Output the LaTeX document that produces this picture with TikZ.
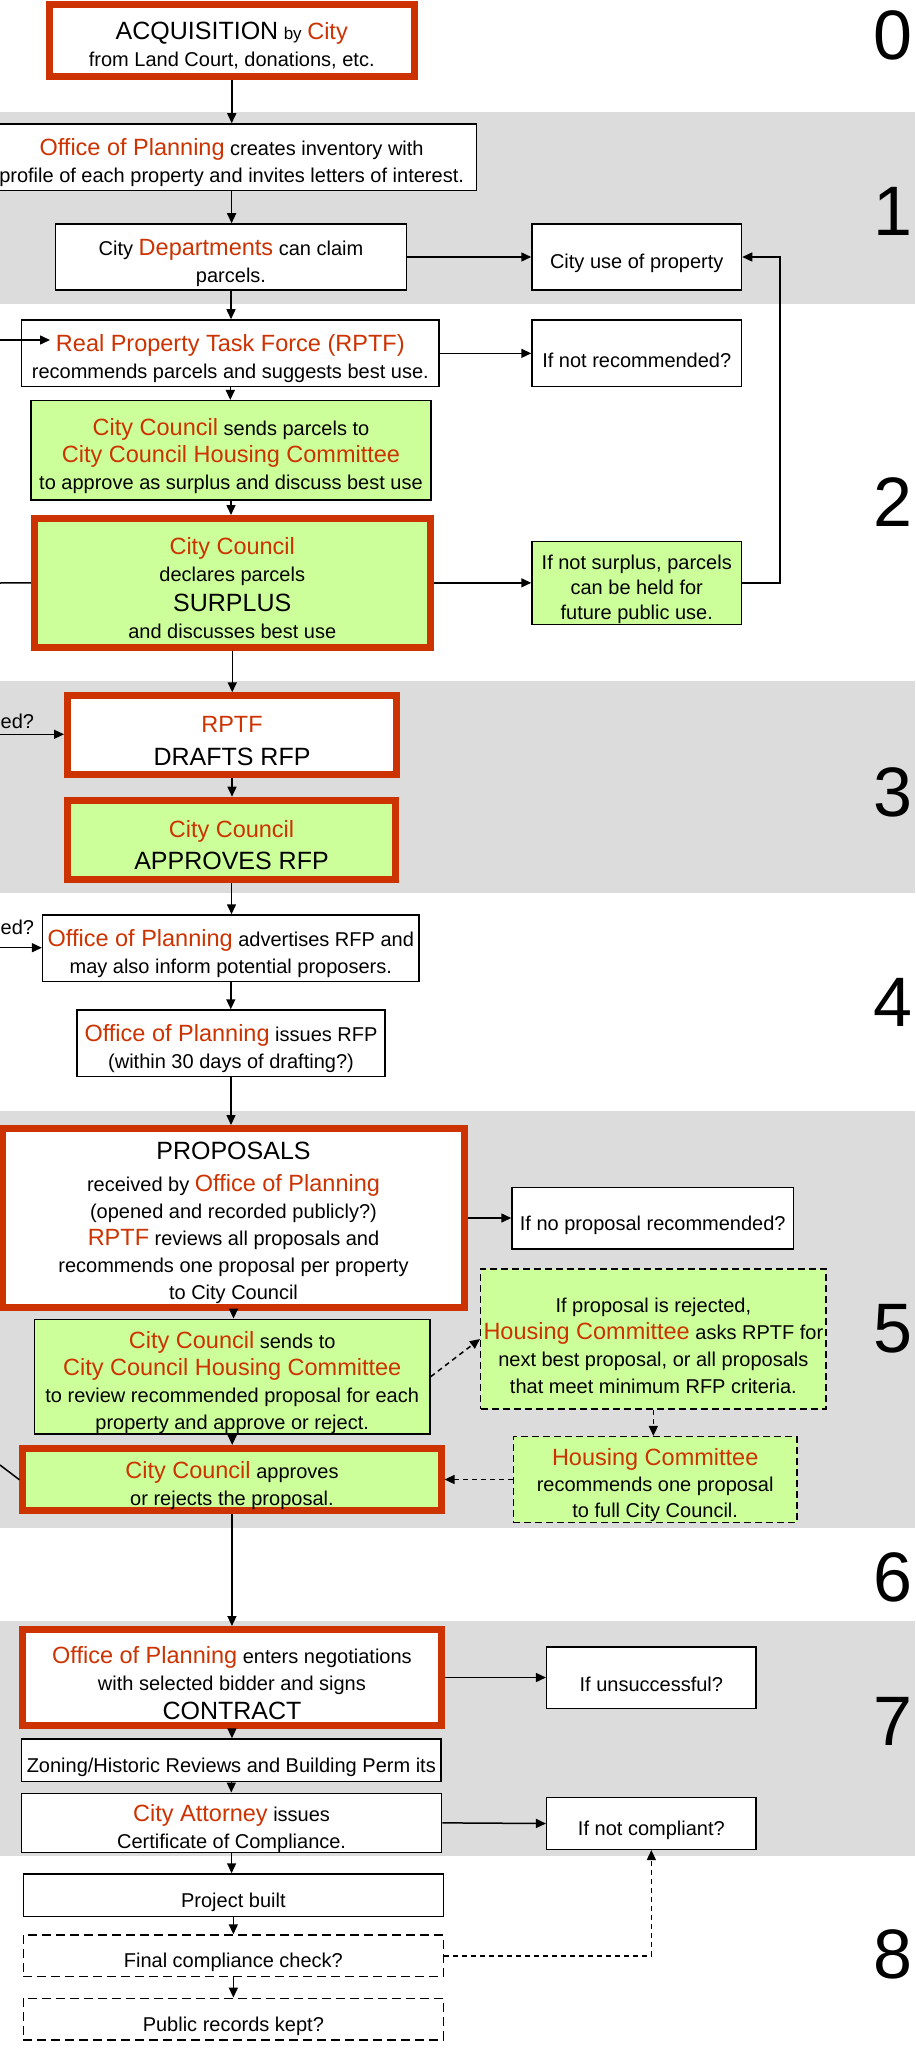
\documentclass[tikz,border=0pt]{standalone}
\usepackage{fontspec}
\setmainfont{Liberation Sans}
\usetikzlibrary{arrows.meta}
\definecolor{myred}{RGB}{204,51,0}
\definecolor{mygreen}{RGB}{204,255,153}
\definecolor{bandgray}{RGB}{220,220,220}
\newcommand{\redt}[1]{{\color{myred}\fontsize{23.5}{27}\selectfont #1}}
\newcommand{\bigt}[1]{{\fontsize{25}{27}\selectfont #1}}
\newcommand{\tp}{\rule{0pt}{28pt}}
\begin{document}
\begin{tikzpicture}[x=1pt,y=-1pt,
 box/.style={draw=black, line width=1.5pt, fill=white, align=center, inner sep=0pt, font=\fontsize{20}{27}\selectfont},
 gbox/.style={box, fill=mygreen},
 rbox/.style={box, draw=myred, line width=7pt},
 dbox/.style={box, dash pattern=on 9pt off 5pt},
 gdbox/.style={gbox, dash pattern=on 7pt off 4pt},
 arr/.style={-{Triangle[length=10pt,width=9pt]}, line width=1.5pt},
 ln/.style={line width=1.5pt},
 darr/.style={arr, dash pattern=on 5pt off 4pt},
 num/.style={font=\fontsize{70}{70}\selectfont, anchor=east, inner sep=0pt},
 side/.style={font=\fontsize{20}{27}\selectfont, anchor=west, inner sep=0pt}
 ]
\useasboundingbox (0,0) rectangle (915,2049);
% bands
\fill[bandgray] (0,112) rectangle (915,304);
\fill[bandgray] (0,681) rectangle (915,893);
\fill[bandgray] (0,1111) rectangle (915,1528);
\fill[bandgray] (0,1621) rectangle (915,1856);
% numbers
\node[num] (n0) at (913,35) {0};
\node[num] (n1) at (913,211.7) {1};
\node[num] (n2) at (913,502) {2};
\node[num] (n3) at (913,792) {3};
\node[num] (n4) at (913,1002) {4};
\node[num] (n5) at (913,1329) {5};
\node[num] (n6) at (913,1577) {6};
\node[num] (n7) at (913,1721) {7};
\node[num] (n8) at (913,1954) {8};
% nodes
\node[rbox, minimum width=365.5, minimum height=72] (acq) at (231.75,40.5)
 {\tp\bigt{ACQUISITION} {\fontsize{17}{27}\selectfont by} \redt{City}\\from Land Court, donations, etc.};
\node[box, minimum width=490.2, minimum height=66.7] (inv) at (231.6,157.35)
 {\tp\redt{Office of Planning} creates inventory with\\profile of each property and invites letters of interest.};
\node[box, minimum width=351.2, minimum height=66] (dept) at (231,257)
 {\tp City \redt{Departments} can claim\\parcels.};
\node[box, minimum width=209.5, minimum height=66] (cityuse) at (636.75,257)
 {\tp City use of property};
\node[box, minimum width=417.4, minimum height=66.7] (rptf) at (230.3,353.35)
 {\tp\redt{Real Property Task Force (RPTF)}\\recommends parcels and suggests best use.};
\node[box, minimum width=209.5, minimum height=66.7] (notrec) at (636.75,353.35)
 {\tp If not recommended?};
\node[gbox, minimum width=400, minimum height=99.3] (ccsend) at (231,450.35)
 {\tp\redt{City Council} sends parcels to\\\redt{City Council Housing Committee}\\to approve as surplus and discuss best use};
\node[rbox, fill=mygreen, minimum width=395.5, minimum height=128.7] (surplus) at (232.25,582.85)
 {\tp\redt{City Council}\\declares parcels\\[3pt]\bigt{SURPLUS}\\and discusses best use};
\node[gbox, minimum width=209.5, minimum height=82.6, font=\fontsize{20}{25}\selectfont] (notsurplus) at (636.75,583)
 {\tp If not surplus, parcels\\can be held for\\future public use.};
\node[rbox, minimum width=329, minimum height=78.4] (drafts) at (232,735)
 {\tp\redt{RPTF}\\[6pt]\bigt{DRAFTS RFP}};
\node[rbox, fill=mygreen, minimum width=328, minimum height=79.6] (approves) at (231.5,840)
 {\tp\redt{City Council}\\[5pt]\bigt{APPROVES RFP}};
\node[box, minimum width=376.4, minimum height=66.7] (advert) at (230.8,948.35)
 {\tp\redt{Office of Planning} advertises RFP and\\may also inform potential proposers.};
\node[box, minimum width=308, minimum height=66.7] (issues) at (231,1043.35)
 {\tp\redt{Office of Planning} issues RFP\\(within 30 days of drafting?)};
\node[rbox, minimum width=462, minimum height=179, font=\fontsize{20}{27}\selectfont] (proposals) at (233.5,1218)
 {\tp\bigt{PROPOSALS}\\[5pt]received by \redt{Office of Planning}\\(opened and recorded publicly?)\\\redt{RPTF} reviews all proposals and\\recommends one proposal per property\\to City Council};
\node[box, minimum width=281.5, minimum height=61.7] (noprop) at (652.75,1218.15)
 {\tp If no proposal recommended?};
\node[gbox, minimum width=395.6, minimum height=114.7] (ccsend2) at (232.2,1376.65)
 {\tp\redt{City Council} sends to\\\redt{City Council Housing Committee}\\to review recommended proposal for each\\property and approve or reject.};
\node[gdbox, minimum width=345.3, minimum height=140] (rejected) at (653.35,1339)
 {\tp If proposal is rejected,\\\redt{Housing Committee} asks RPTF for\\next best proposal, or all proposals\\that meet minimum RFP criteria.};
\node[gdbox, minimum width=283.6, minimum height=85.6, font=\fontsize{20}{26}\selectfont] (hc) at (655.2,1479.5)
 {\tp\redt{Housing Committee}\\recommends one proposal\\to full City Council.};
\node[rbox, fill=mygreen, minimum width=418.3, minimum height=62.3] (ccappr) at (231.95,1479.65)
 {\tp\redt{City Council} approves\\or rejects the proposal.};
\node[rbox, minimum width=418.3, minimum height=96] (contract) at (231.95,1677.5)
 {\tp\redt{Office of Planning} enters negotiations\\with selected bidder and signs\\[2pt]\bigt{CONTRACT}};
\node[box, minimum width=209.3, minimum height=61.3] (unsucc) at (651.35,1677.65)
 {\tp If unsuccessful?};
\node[box, minimum width=419.4, minimum height=42.7] (zoning) at (231.3,1760.35)
 {\tp Zoning/Historic Reviews and Building Perm its};
\node[box, minimum width=420, minimum height=55.7] (attorney) at (231.6,1822.85)
 {\tp\redt{City Attorney} issues\\Certificate of Compliance.};
\node[box, minimum width=209.3, minimum height=51.6] (compliant) at (651.35,1823.5)
 {\tp If not compliant?};
\node[box, minimum width=420.1, minimum height=42.7] (built) at (233.35,1895.35)
 {\tp Project built};
\node[dbox, minimum width=420.1, minimum height=41.7] (final) at (233.35,1955.85)
 {\tp Final compliance check?};
\node[dbox, minimum width=420.1, minimum height=41.7] (records) at (233.35,2019.15)
 {\tp Public records kept?};
% partial side texts
\node[side] (ed1) at (0.5,721.7) {ed?};
\node[side] (ed2) at (0.5,927.7) {ed?};
% free ends
\coordinate (inR) at (0,340);
\coordinate (inRend) at (50,340);
\coordinate (outS) at (0,583);
\coordinate (inD) at (0,734.3);
\coordinate (inA) at (0,947.7);
\coordinate (outC) at (0,1465);
% connectors
\draw[arr] (acq.south) -- (acq.south |- inv.north);
\draw[arr] (inv.south) -- (inv.south |- dept.north);
\draw[arr] (dept.south) -- (dept.south |- rptf.north);
\draw[arr] (dept.east) -- (cityuse.west);
\draw[arr] (inR) -- (inRend);
\draw[arr] (rptf.east) -- (rptf.east -| notrec.west);
\draw[arr] (rptf.south) -- (rptf.south |- ccsend.north);
\draw[arr] (ccsend.south) -- (ccsend.south |- surplus.north);
\draw[ln] (surplus.west) -- (outS);
\draw[arr] (surplus.east) -- (surplus.east -| notsurplus.west);
\draw[arr] (notsurplus.east) -- ++(37.5,0) |- (cityuse.east);
\draw[arr] (surplus.south) -- (surplus.south |- drafts.north);
\draw[arr] (inD) -- (inD -| drafts.west);
\draw[arr] (drafts.south) -- (drafts.south |- approves.north);
\draw[arr] (approves.south) -- (approves.south |- advert.north);
\draw[arr] (inA) -- (inA -| advert.west);
\draw[arr] (advert.south) -- (advert.south |- issues.north);
\draw[arr] (issues.south) -- (issues.south |- proposals.north);
\draw[arr] (proposals.east) -- (proposals.east -| noprop.west);
\draw[arr] (proposals.south) -- (proposals.south |- ccsend2.north);
\draw[darr] (ccsend2.east) -- (rejected.west);
\draw[darr] (rejected.south) -- (rejected.south |- hc.north);
\draw[darr] (hc.west) -- (hc.west -| ccappr.east);
\draw[arr] (ccsend2.south) -- (ccsend2.south |- ccappr.north);
\draw[ln] (ccappr.west) -- (outC);
\draw[arr] (ccappr.south) -- (ccappr.south |- contract.north);
\draw[arr] (contract.east) -- (contract.east -| unsucc.west);
\draw[arr] (contract.south) -- (contract.south |- zoning.north);
\draw[arr] (zoning.south) -- (zoning.south |- attorney.north);
\draw[arr] (attorney.east) -- (compliant.west);
\draw[arr] (attorney.south) -- (attorney.south |- built.north);
\draw[arr] (built.south) -- (built.south |- final.north);
\draw[arr] (final.south) -- (final.south |- records.north);
\draw[darr] (final.east) -| (compliant.south);
\end{tikzpicture}
\end{document}
